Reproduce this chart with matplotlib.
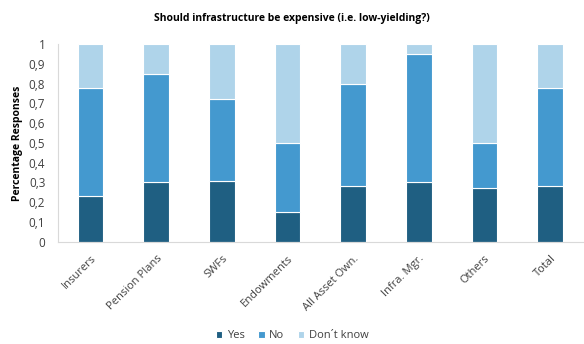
import numpy as np
import matplotlib
matplotlib.use("Agg")
import matplotlib.pyplot as plt
from matplotlib.ticker import FuncFormatter

plt.rcParams['font.family'] = ['Open Sans', 'DejaVu Sans']

categories = ["Insurers", "Pension Plans", "SWFs", "Endowments", "All Asset Own.",
              "Infra. Mgr.", "Others", "Total"]
yes = [0.23, 0.30, 0.31, 0.15, 0.28, 0.30, 0.27, 0.28]
no = [0.55, 0.55, 0.41, 0.35, 0.52, 0.65, 0.23, 0.50]
dont_know = [0.22, 0.15, 0.28, 0.50, 0.20, 0.05, 0.50, 0.22]
series_names = ["Yes", "No", "Don\u00b4t know"]
colors = ["#1f5f82", "#4499cf", "#afd4ea"]

fig = plt.figure(figsize=(5.84, 3.44), dpi=100)
ax = fig.add_axes([0.099, 0.297, 0.899, 0.575])

x = np.arange(len(categories))
bottom = np.zeros(len(categories))
for vals, name, c in zip([yes, no, dont_know], series_names, colors):
    ax.bar(x, vals, width=0.39, bottom=bottom, color=c, label=name,
           edgecolor="white", linewidth=0.8)
    bottom += np.array(vals)

ax.set_ylim(0, 1)
ax.set_xlim(-0.5, len(categories) - 0.5)
ax.set_yticks(np.arange(0, 1.01, 0.1))
ax.yaxis.set_major_formatter(FuncFormatter(
    lambda v, p: "0" if abs(v) < 1e-9 else ("1" if abs(v - 1) < 1e-9 else f"{v:.1f}".replace(".", ","))))
ax.set_xticks(x)
ax.set_xticklabels(categories, rotation=45, ha="right", rotation_mode="anchor",
                   fontsize=8, color="#404040")
ax.tick_params(axis="y", labelsize=8.5, colors="#404040", length=0, pad=9)
ax.tick_params(axis="x", length=0, pad=8)

for s in ["top", "right"]:
    ax.spines[s].set_visible(False)
ax.spines["left"].set_color("#d9d9d9")
ax.spines["bottom"].set_color("#d9d9d9")

ax.set_ylabel("Percentage Responses", fontsize=7.5, fontweight="bold", color="#000000",
              labelpad=4)
fig.text(0.5, 0.945, "Should infrastructure be expensive (i.e. low-yielding?)",
         ha="center", va="center", fontsize=7.5, fontweight="bold")

fig.legend(loc="center", bbox_to_anchor=(0.5, 0.024), ncol=3, frameon=False,
           fontsize=8, handlelength=0.6, handleheight=0.6, handletextpad=0.4,
           columnspacing=1.2, labelcolor="#404040")

fig.savefig("out.png", dpi=100)
